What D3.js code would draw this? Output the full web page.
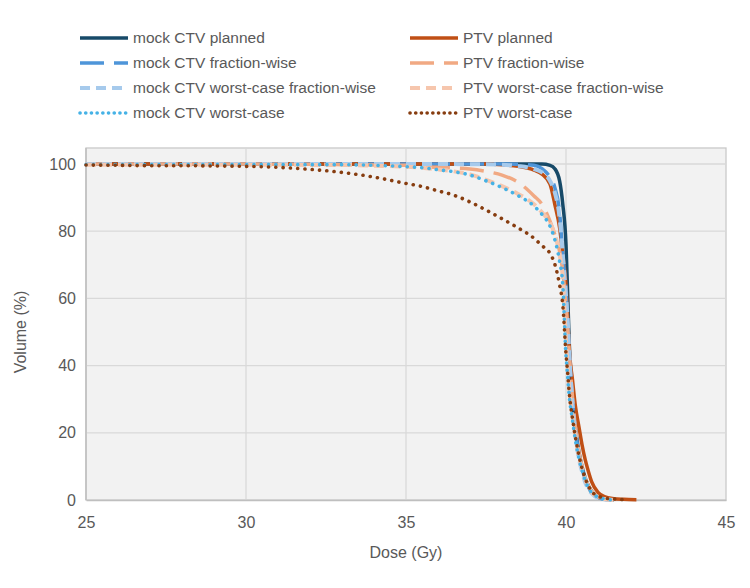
<!DOCTYPE html>
<html>
<head>
<meta charset="utf-8">
<script src="https://cdn.jsdelivr.net/npm/d3@7"></script>
<style>
  body { margin: 0; background: #ffffff; }
  svg text { font-family: "Liberation Sans", Arial, sans-serif; fill: #595959; }
</style>
</head>
<body>
<div id="chart"></div>
<script>
// dose grid (Gy) shared by all curves
const doses = [25, 26, 27, 28, 29, 30, 31, 32, 33, 34, 35, 35.5, 36, 36.5, 37, 37.5, 38, 38.5, 39, 39.25,
  39.5, 39.65, 39.8, 39.9, 40, 40.05, 40.1, 40.2, 40.3, 40.4, 40.5, 40.6, 40.7, 40.8, 41, 41.2, 41.5, 41.8, 42.2];

// volume (%) per series, null = no data
const mockCtvPlanned = [100, 100, 100, 100, 100, 100, 100, 100, 100, 100, 100, 100, 100, 100, 100, 100, 100, 100, 100, 100,
  99.6, 98.6, 95, 88, 76, 62, 47, 31, 21, 14.5, 10, 6.5, 4.2, 2.6, 0.9, 0.3, 0, null, null];
const ptvPlanned = [100, 100, 100, 100, 100, 100, 100, 100, 100, 100, 100, 100, 100, 100, 100, 100, 99.8, 99.3, 98.2, 97,
  94, 88, 81, 73, 64, 55, 45, 36, 27.5, 22, 16.5, 12, 8.5, 5.5, 2.3, 1.0, 0.4, 0.2, 0.1];
const mockCtvFraction = [100, 100, 100, 100, 100, 100, 100, 100, 100, 100, 100, 100, 100, 100, 100, 100, 100, 99.9, 99.6, 98.6,
  96, 93, 85.5, 73, 62, 54, 44, 30, 20.5, 14, 9.5, 6, 3.8, 2.3, 0.8, 0.2, 0, null, null];
const ptvFraction = [100, 100, 100, 100, 100, 100, 99.9, 99.9, 99.8, 99.7, 99.6, 99.3, 99.0, 98.8, 98.5, 97.8, 96.7, 94.6, 90.5, 88,
  83, 79, 74, 68, 58, 52, 44, 31, 21, 14.5, 10, 6.5, 4.2, 2.6, 1, 0.3, 0, null, null];
const mockCtvWcFraction = [100, 100, 100, 100, 100, 100, 100, 100, 100, 100, 100, 100, 100, 100, 99.9, 99.9, 99.8, 99.4, 98.5, 97.5,
  95, 91.5, 84, 73, 61, 54, 44, 29, 19, 12.5, 8.5, 5.3, 3.3, 2, 0.6, 0.2, 0, null, null];
const ptvWcFraction = [99.8, 99.8, 99.8, 99.8, 99.8, 99.8, 99.8, 99.7, 99.7, 99.5, 99.2, 98.9, 98.4, 97.8, 96.9, 95.3, 93.4, 91.1, 88, 85.6,
  82.5, 79, 73, 66, 47, 40, 33, 25, 18.5, 13, 9.5, 6.3, 3.8, 2.3, 0.9, 0.3, 0, null, null];
const mockCtvWorst = [99.8, 99.8, 99.8, 99.8, 99.8, 99.8, 99.8, 99.8, 99.8, 99.6, 99.2, 98.9, 98.3, 97.7, 96.7, 95, 93, 90.6, 87.5, 85,
  81.5, 77.5, 71, 64, 43, 37, 31, 24, 17.5, 12.5, 9, 6, 3.6, 2.2, 0.9, 0.3, 0, null, null];
const ptvWorst = [99.7, 99.6, 99.5, 99.5, 99.4, 99.3, 99.0, 98.4, 97.5, 96.1, 94.2, 93.3, 92, 90.7, 88.7, 86.3, 83.7, 81, 77.9, 75.7,
  73.4, 70.2, 64, 58, 43.5, 38, 32, 24.5, 18.5, 13.5, 9.5, 6.5, 4.2, 2.6, 1.2, 0.6, 0.3, 0.1, null];

const xTicks = [25, 30, 35, 40, 45];
const yTicks = [0, 20, 40, 60, 80, 100];

// series in legend order (row by row, two columns)
const series = [
  { name: 'mock CTV planned', values: mockCtvPlanned, color: '#174a68', width: 3.5, dash: null },
  { name: 'PTV planned', values: ptvPlanned, color: '#c04f15', width: 3.5, dash: null },
  { name: 'mock CTV fraction-wise', values: mockCtvFraction, color: '#4e95d9', width: 3.5, dash: '24,10' },
  { name: 'PTV fraction-wise', values: ptvFraction, color: '#f1a983', width: 3.5, dash: '24,10' },
  { name: 'mock CTV worst-case fraction-wise', values: mockCtvWcFraction, color: '#a6caec', width: 4, dash: '10,6' },
  { name: 'PTV worst-case fraction-wise', values: ptvWcFraction, color: '#f6c6ad', width: 4, dash: '10,6' },
  { name: 'mock CTV worst-case', values: mockCtvWorst, color: '#45b2e6', width: 3.6, dash: '0.1,7.2', round: true },
  { name: 'PTV worst-case', values: ptvWorst, color: '#873d10', width: 3.6, dash: '0.1,7.2', round: true }
];

const width = 750;
const height = 588;
const plot = { left: 86, right: 726, top: 148, bottom: 500 };

const svg = d3.select('#chart').append('svg')
  .attr('width', width)
  .attr('height', height);

const x = d3.scaleLinear().domain([25, 45]).range([plot.left, plot.right]);
const y = d3.scaleLinear().domain([0, 100]).range([plot.bottom, 164]);

// plot background
svg.append('rect')
  .attr('x', plot.left).attr('y', plot.top)
  .attr('width', plot.right - plot.left).attr('height', plot.bottom - plot.top)
  .attr('fill', '#f2f2f2')
  .attr('stroke', '#c9c9c9')
  .attr('stroke-width', 1.3);

// gridlines
svg.append('g').selectAll('line.h')
  .data(yTicks.slice(1))
  .join('line')
  .attr('x1', plot.left).attr('x2', plot.right)
  .attr('y1', d => y(d)).attr('y2', d => y(d))
  .attr('stroke', '#d9d9d9').attr('stroke-width', 1.3);

svg.append('g').selectAll('line.v')
  .data(xTicks.slice(1, -1))
  .join('line')
  .attr('x1', d => x(d)).attr('x2', d => x(d))
  .attr('y1', plot.top).attr('y2', plot.bottom)
  .attr('stroke', '#d9d9d9').attr('stroke-width', 1.3);

// axes
const xAxis = svg.append('g')
  .attr('transform', `translate(0,${plot.bottom})`)
  .call(d3.axisBottom(x).tickValues(xTicks).tickSize(0).tickPadding(17));
xAxis.select('.domain').attr('stroke', '#bfbfbf').attr('stroke-width', 1.5);
xAxis.selectAll('text').style('font-size', '16px').attr('fill', '#595959');

const yAxis = svg.append('g')
  .attr('transform', `translate(${plot.left},0)`)
  .call(d3.axisLeft(y).tickValues(yTicks).tickSize(0).tickPadding(10));
yAxis.select('.domain').attr('stroke', '#bfbfbf').attr('stroke-width', 1.5)
  .attr('d', `M0,${plot.top}V${plot.bottom}`);
yAxis.selectAll('text').style('font-size', '16px').attr('fill', '#595959');

// axis titles
svg.append('text')
  .attr('x', (plot.left + plot.right) / 2).attr('y', 558)
  .attr('text-anchor', 'middle')
  .style('font-size', '16px')
  .text('Dose (Gy)');

svg.append('text')
  .attr('transform', `translate(26,${(plot.top + plot.bottom) / 2 + 8}) rotate(-90)`)
  .attr('text-anchor', 'middle')
  .style('font-size', '16px')
  .text('Volume (%)');

// curves
const line = d3.line()
  .defined(d => d[1] !== null)
  .x(d => x(d[0]))
  .y(d => y(d[1]))
  .curve(d3.curveMonotoneX);

svg.append('g').selectAll('path')
  .data(series)
  .join('path')
  .attr('d', s => line(doses.map((d, i) => [d, s.values[i]])))
  .attr('fill', 'none')
  .attr('stroke', s => s.color)
  .attr('stroke-width', s => s.width)
  .attr('stroke-dasharray', s => s.dash)
  .attr('stroke-linecap', s => s.round ? 'round' : 'butt')
  .attr('stroke-linejoin', 'round');

// legend
const legend = svg.append('g');
const item = legend.selectAll('g')
  .data(series)
  .join('g')
  .attr('transform', (s, i) => `translate(${i % 2 === 0 ? 80 : 410},${38 + Math.floor(i / 2) * 25})`);

item.append('line')
  .attr('x1', 0).attr('x2', 48)
  .attr('stroke', s => s.color)
  .attr('stroke-width', s => s.width)
  .attr('stroke-dasharray', s => s.dash ? (s.round ? '0.1,5.6' : s.dash) : null)
  .attr('stroke-linecap', s => s.round ? 'round' : 'butt');

item.append('text')
  .attr('x', 53).attr('dy', '0.35em')
  .style('font-size', '15.5px')
  .text(s => s.name);
</script>
</body>
</html>
